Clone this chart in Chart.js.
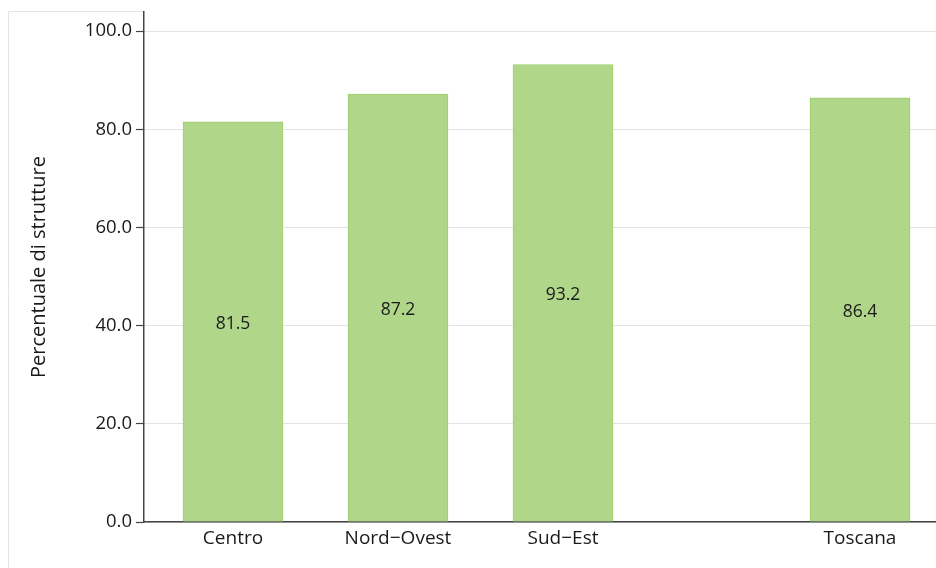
<!DOCTYPE html>
<html>
<head>
<meta charset="utf-8">
<script src="https://cdn.jsdelivr.net/npm/chart.js@4.4.1/dist/chart.umd.min.js"></script>
<style>
  html, body { margin: 0; padding: 0; background: #ffffff; }
  #wrap { width: 936px; height: 568px; position: relative; }
</style>
</head>
<body>
<div id="wrap"><canvas id="c" width="936" height="568"></canvas></div>
<script>
const categories = ['Centro', 'Nord\u2212Ovest', 'Sud\u2212Est', 'Toscana'];
const slots = [1, 2, 3, 4.8];
const values = [81.5, 87.2, 93.2, 86.4];
const yTicks = [0, 20, 40, 60, 80, 100];
const yTitle = 'Percentuale di strutture';

const FONT = "'Open Sans', 'Noto Sans', sans-serif";

const framePlugin = {
  id: 'frame',
  beforeDraw(chart) {
    const ctx = chart.ctx;
    ctx.save();
    ctx.strokeStyle = '#dfe7e7';
    ctx.lineWidth = 1;
    ctx.beginPath();
    ctx.moveTo(8.5, 568);
    ctx.lineTo(8.5, 11.5);
    ctx.lineTo(chart.chartArea.left, 11.5);
    ctx.stroke();
    ctx.restore();
  }
};

const valueLabels = {
  id: 'valueLabels',
  afterDatasetsDraw(chart) {
    const ctx = chart.ctx;
    const meta = chart.getDatasetMeta(0);
    ctx.save();
    ctx.font = "17.5px " + FONT;
    ctx.fillStyle = '#1a1a1a';
    ctx.textAlign = 'center';
    ctx.textBaseline = 'middle';
    meta.data.forEach((bar, i) => {
      const p = bar.getProps(['x', 'y', 'base'], true);
      ctx.fillText(values[i].toFixed(1), p.x, (p.y + p.base) / 2 + 2);
    });
    ctx.restore();
  }
};

new Chart(document.getElementById('c'), {
  type: 'bar',
  data: {
    datasets: [{
      data: slots.map((s, i) => ({ x: s, y: values[i] })),
      backgroundColor: '#b0d68a',
      borderColor: '#9ccf68',
      borderWidth: 1,
      barThickness: 100
    }]
  },
  options: {
    responsive: false,
    animation: false,
    devicePixelRatio: 1,
    layout: { padding: { top: 12, right: 0, left: 0, bottom: 0 } },
    plugins: { legend: { display: false }, tooltip: { enabled: false } },
    scales: {
      x: {
        type: 'linear',
        offset: false,
        bounds: 'data',
        min: 0.4606,
        max: 5.2606,
        afterBuildTicks(scale) { scale.ticks = slots.map(v => ({ value: v })); },
        afterFit(scale) { scale.height = 46; scale.paddingLeft = 0; scale.paddingRight = 0; },
        ticks: {
          autoSkip: false,
          maxRotation: 0,
          padding: 5,
          color: '#1a1a1a',
          font: { family: FONT, size: 19 },
          callback: (v, i) => categories[i]
        },
        grid: { display: true, drawOnChartArea: false, drawTicks: false },
        border: { display: true, color: '#444444', width: 1.5 }
      },
      y: {
        type: 'linear',
        min: 0,
        max: 103.9,
        afterBuildTicks(scale) { scale.ticks = yTicks.map(v => ({ value: v })); },
        afterFit(scale) { scale.width = 144; scale.paddingTop = 0; scale.paddingBottom = 0; },
        ticks: {
          padding: 4,
          color: '#1a1a1a',
          font: { family: FONT, size: 18.5 },
          callback: v => v.toFixed(1)
        },
        grid: { color: '#e3e3e3', lineWidth: 1, tickLength: 8, tickColor: '#444444', tickWidth: 1.2 },
        border: { display: true, color: '#444444', width: 1.5 },
        title: {
          display: true,
          text: yTitle,
          color: '#1a1a1a',
          font: { family: FONT, size: 20 },
          padding: { top: 27, bottom: 0 }
        }
      }
    }
  },
  plugins: [framePlugin, valueLabels]
});
</script>
</body>
</html>
